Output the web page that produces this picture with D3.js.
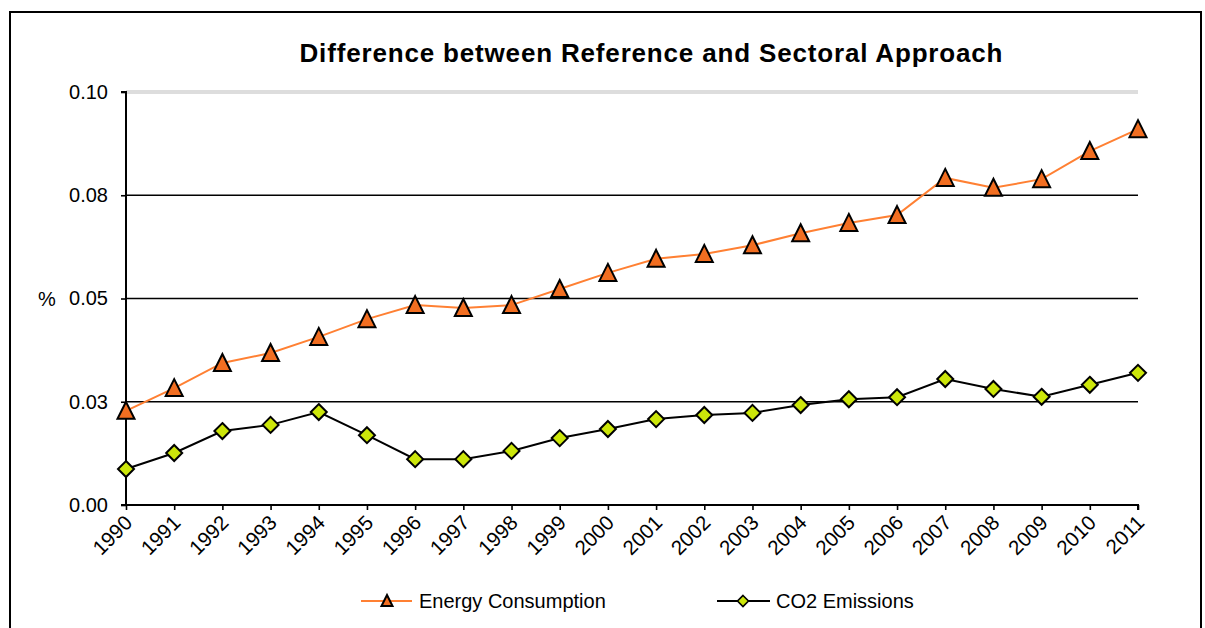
<!DOCTYPE html>
<html><head><meta charset="utf-8">
<script src="https://cdn.jsdelivr.net/npm/d3@7"></script>
<style>body{margin:0;background:#fff}svg{display:block;font-family:"Liberation Sans",Arial,sans-serif}</style>
</head><body><svg id="c" width="1205" height="628"></svg>
<script>
const years = ["1990","1991","1992","1993","1994","1995","1996","1997","1998","1999","2000","2001","2002","2003","2004","2005","2006","2007","2008","2009","2010","2011"];
const energyConsumption = [0.0228,0.0283,0.0344,0.0368,0.0407,0.0450,0.0484,0.0477,0.0484,0.0523,0.0562,0.0596,0.0608,0.0629,0.0658,0.0683,0.0702,0.0792,0.0768,0.0789,0.0857,0.0910];
const co2Emissions = [0.0087,0.0126,0.0179,0.0194,0.0225,0.0169,0.0111,0.0111,0.0131,0.0162,0.0184,0.0208,0.0218,0.0223,0.0242,0.0256,0.0261,0.0305,0.0281,0.0262,0.0291,0.0320];
const yTickValues = [0, 0.025, 0.05, 0.075, 0.1];
const yTickLabels = ["0.00","0.03","0.05","0.08","0.10"];
const titleText = "Difference between Reference and Sectoral Approach";
const yTitle = "%";
const seriesNames = ["Energy Consumption","CO2 Emissions"];

const svg = d3.select("#c");
svg.append("rect").attr("x",10).attr("y",12).attr("width",1191).attr("height",640)
  .attr("fill","none").attr("stroke","#000").attr("stroke-width",2);

const x = d3.scalePoint().domain(years).range([126,1138]);
const y = d3.scaleLinear().domain([0,0.1]).range([505,92]);

// gridlines
yTickValues.forEach(v=>{
  if (v===0) return;
  if (v===0.1){
    [-1,1].forEach(o=>svg.append("line").attr("x1",126).attr("x2",1138)
      .attr("y1",y(v)+o).attr("y2",y(v)+o).attr("stroke","#bbb").attr("stroke-width",1));
  } else {
    svg.append("line").attr("x1",126).attr("x2",1138).attr("y1",y(v)).attr("y2",y(v))
      .attr("stroke","#000").attr("stroke-width",1.6);
  }
});

// y axis
const yAxis = d3.axisLeft(y).tickValues(yTickValues).tickSize(5).tickPadding(13)
  .tickFormat((d,i)=>yTickLabels[i]);
const gy = svg.append("g").attr("transform","translate(126,0)").call(yAxis);
gy.select(".domain").attr("stroke-width",2).attr("d","M-5,92H0V505");
gy.selectAll(".tick line").attr("stroke-width",1.6);
gy.selectAll("text").attr("font-size",20).attr("fill","#000").attr("font-family","Liberation Sans, Arial");

svg.append("text").attr("x",38).attr("y",y(0.05)).attr("dy","0.35em")
  .attr("font-size",20).text(yTitle);

// x axis
const xAxis = d3.axisBottom(x).tickSize(5).tickSizeOuter(0);
const gx = svg.append("g").attr("transform","translate(0,505)").call(xAxis);
gx.select(".domain").attr("stroke-width",2).attr("d","M121,0H1138V5");
gx.selectAll(".tick line").attr("stroke-width",1.6);
gx.selectAll("text").attr("font-size",20.5).attr("fill","#000").attr("font-family","Liberation Sans, Arial")
  .attr("text-anchor","end").attr("dy",null).attr("y",null)
  .attr("transform","translate(7,19) rotate(-45)");

// title
svg.append("text").attr("x",651).attr("y",62).attr("text-anchor","middle")
  .attr("font-size",26).attr("font-weight","bold").attr("textLength",703)
  .attr("lengthAdjust","spacing").text(titleText);

// lines
const line = d3.line().x((d,i)=>x(years[i])).y(d=>y(d));
svg.append("path").datum(energyConsumption).attr("d",line).attr("fill","none")
  .attr("stroke","#FF8033").attr("stroke-width",2);
svg.append("path").datum(co2Emissions).attr("d",line).attr("fill","none")
  .attr("stroke","#000").attr("stroke-width",2);

const tri = "M0,-9L8.5,8L-8.5,8Z";
const dia = "M0,-8L8,0L0,8L-8,0Z";
svg.selectAll(".tri").data(energyConsumption).join("path").attr("class","tri")
  .attr("d",tri).attr("transform",(d,i)=>`translate(${x(years[i])},${y(d)})`)
  .attr("fill","#F26E21").attr("stroke","#000").attr("stroke-width",2).attr("stroke-linejoin","miter");
svg.selectAll(".dia").data(co2Emissions).join("path").attr("class","dia")
  .attr("d",dia).attr("transform",(d,i)=>`translate(${x(years[i])},${y(d)})`)
  .attr("fill","#CCE60A").attr("stroke","#000").attr("stroke-width",2);

// legend
const ly = 601;
svg.append("line").attr("x1",361).attr("x2",412).attr("y1",ly).attr("y2",ly).attr("stroke","#FF8033").attr("stroke-width",2);
svg.append("path").attr("d","M0,-6L5.5,5L-5.5,5Z").attr("transform",`translate(387,${ly})`)
  .attr("fill","#F26E21").attr("stroke","#000").attr("stroke-width",2);
svg.append("text").attr("x",419).attr("y",ly).attr("dy","0.35em").attr("font-size",20).text(seriesNames[0]);
svg.append("line").attr("x1",717).attr("x2",770).attr("y1",ly).attr("y2",ly).attr("stroke","#000").attr("stroke-width",2);
svg.append("path").attr("d","M0,-5.5L5.5,0L0,5.5L-5.5,0Z").attr("transform",`translate(743,${ly})`)
  .attr("fill","#CCE60A").attr("stroke","#000").attr("stroke-width",1.6);
svg.append("text").attr("x",776).attr("y",ly).attr("dy","0.35em").attr("font-size",20).text(seriesNames[1]);
</script></body></html>
